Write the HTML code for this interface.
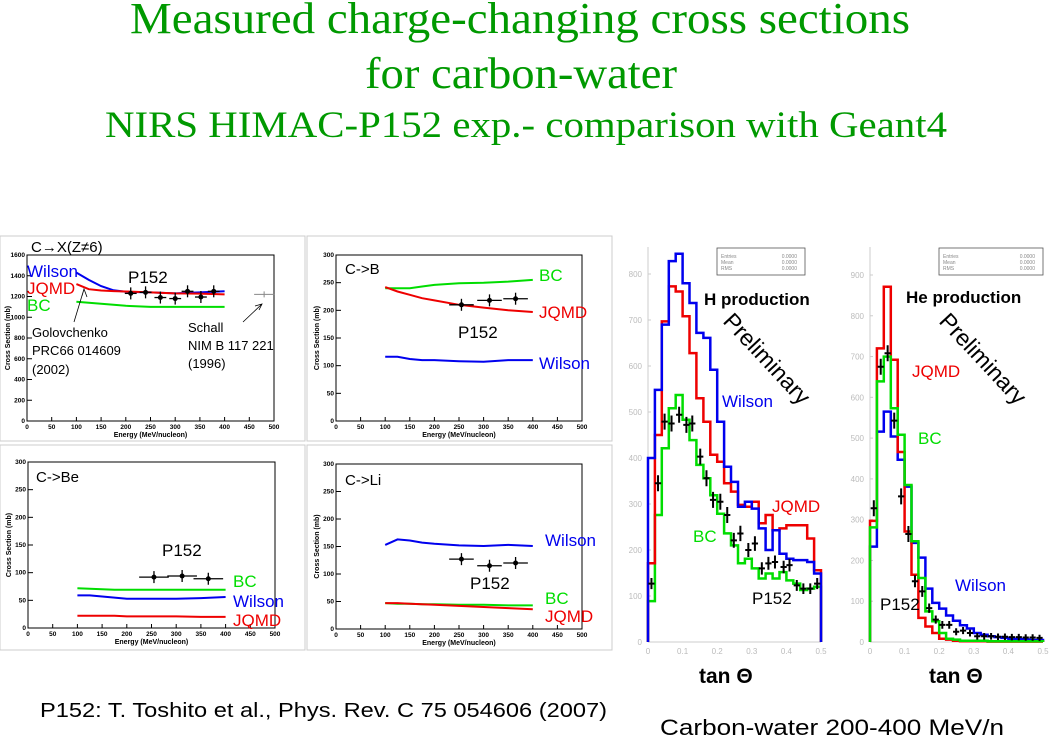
<!DOCTYPE html>
<html><head><meta charset="utf-8"><style>
html,body{margin:0;padding:0;background:#fff}
svg{display:block}
text{font-family:"Liberation Sans",sans-serif}
.serif{font-family:"Liberation Serif",serif}
</style></head><body>
<svg id="s" width="1050" height="738" viewBox="0 0 1050 738" xmlns="http://www.w3.org/2000/svg">
<g fill="#009900">
<text class="serif" x="520" y="33" font-size="44" text-anchor="middle" textLength="780" lengthAdjust="spacingAndGlyphs">Measured charge-changing cross sections</text>
<text class="serif" x="521" y="88" font-size="44" text-anchor="middle" textLength="312" lengthAdjust="spacingAndGlyphs">for carbon-water</text>
<text class="serif" x="526" y="137" font-size="37" text-anchor="middle" textLength="842" lengthAdjust="spacingAndGlyphs">NIRS HIMAC-P152 exp.- comparison with Geant4</text>
</g>
<text x="40" y="717" font-size="20" fill="#000" textLength="567" lengthAdjust="spacingAndGlyphs">P152: T. Toshito et al., Phys. Rev. C 75 054606 (2007)</text>
<text x="660" y="735" font-size="22" fill="#000" textLength="344" lengthAdjust="spacingAndGlyphs">Carbon-water 200-400 MeV/n</text>
</svg>
<script>
const NS="http://www.w3.org/2000/svg";
const svg=document.getElementById('s');
function mk(tag,attrs,parent){const e=document.createElementNS(NS,tag);for(const k in attrs)e.setAttribute(k,attrs[k]);(parent||svg).appendChild(e);return e;}
function txt(parent,x,y,s,size,fill,extra){const t=mk('text',Object.assign({x:x,y:y,'font-size':size,fill:fill},extra||{}),parent);t.textContent=s;return t;}

const energies=[100,125,150,175,200,250,300,350,400];
const cxWilson=[1430,1360,1300,1260,1245,1240,1230,1240,1250];
const cxJQMD=[1320,1270,1258,1252,1248,1240,1230,1228,1220];
const cxBC=[1150,1140,1130,1120,1110,1100,1100,1100,1100];
const cxPtsE=[210,240,270,300,325,352,378];
const cxPtsV=[1230,1240,1190,1180,1250,1195,1250];
const bBC=[240,240,240,243,246,249,250,252,255];
const bJQMD=[242,234,228,222,218,210,205,200,197];
const bWilson=[116,116,112,110,110,108,107,110,110];
const bPtsE=[255,312,365];
const bPtsV=[210,218,221];
const beBC=[72,71,70,69,69,69,69,69,69];
const beWilson=[59,59,57,55,53,53,53,54,56];
const beJQMD=[22,22,22,22,21,21,21,20,20];
const bePtsV=[92,94,89];
const liWilson=[153,163,161,157,155,152,151,153,151];
const liBC=[47,46,46,45,45,44,44,43,43];
const liJQMD=[47,47,46,45,44,42,40,38,36];
const liPtsV=[127,115,120];
const panelPtsE=[255,312,365];
const xTicks=[0,50,100,150,200,250,300,350,400,450,500];

function panel(o){
  const g=mk('g',{});
  
  
  const r=mk('rect',{x:o.bx,y:o.by,width:o.bw,height:o.bh,fill:'none',stroke:'#ccc','stroke-width':1},g);
  
  
  const X=e=>o.x0+(o.x1-o.x0)*e/500;
  const Y=v=>o.y1-(o.y1-o.y0)*v/o.ymax;
  const fr=mk('rect',{x:o.x0,y:o.y0,width:o.x1-o.x0,height:o.y1-o.y0,fill:'none',stroke:'#000','stroke-width':1},g);
  
  
  xTicks.forEach(t=>{
    mk('line',{x1:X(t),x2:X(t),y1:o.y1,y2:o.y1-4,stroke:'#000'},g);
    const l=txt(g,X(t),o.y1+8,String(t),6.5,'#000',{'text-anchor':'middle','font-weight':'bold'});
    
    
  });
  o.yTicks.forEach(t=>{
    mk('line',{x1:o.x0,x2:o.x0+5,y1:Y(t),y2:Y(t),stroke:'#000'},g);
    const l=txt(g,o.x0-2,Y(t)+2,String(t),6.5,'#000',{'text-anchor':'end','font-weight':'bold'});
    
    
  });
  const xt=txt(g,(o.x0+o.x1)/2,o.y1+16,'Energy (MeV/nucleon)',7,'#000',{'text-anchor':'middle','font-weight':'bold'});
  
  
  const yt=txt(g,0,0,'Cross Section (mb)',7,'#000',{'text-anchor':'middle','font-weight':'bold',transform:`translate(${o.x0-17},${(o.y0+o.y1)/2}) rotate(-90)`});
  
  
  o.series.forEach(s=>{
    const d=energies.map((e,i)=>(i?'L':'M')+X(e).toFixed(1)+','+Y(s.v[i]).toFixed(1)).join('');
    const p=mk('path',{d:d,fill:'none',stroke:s.c,'stroke-width':2},g);
    
    
  });
  o.ptsE.forEach((e,i)=>{
    const v=o.ptsV[i];
    const pg=mk('g',{},g);
    
    
    mk('line',{x1:X(e-o.ex),x2:X(e+o.ex),y1:Y(v),y2:Y(v),stroke:'#000','stroke-width':1.3},pg);
    mk('line',{x1:X(e),x2:X(e),y1:Y(v)-6,y2:Y(v)+6,stroke:'#000','stroke-width':1.3},pg);
    mk('circle',{cx:X(e),cy:Y(v),r:2.5,fill:'#000'},pg);
  });
  o.labels.forEach(l=>{
    const t=txt(g,l[0],l[1],l[2],l[4]||17,l[3]);
    
    
  });
  return {g,X,Y};
}

const p1=panel({name:'panel-c-to-x',bx:0,by:236,bw:305,bh:205,x0:27,x1:274,y0:255,y1:421,ymax:1600,yTicks:[0,200,400,600,800,1000,1200,1400,1600],
 series:[{n:'wilson',c:'#0000ee',v:cxWilson},{n:'jqmd',c:'#ee0000',v:cxJQMD},{n:'bc',c:'#00dd00',v:cxBC}],
 ptsE:cxPtsE,ptsV:cxPtsV,ex:12,
 labels:[[31,252,'C→X(Z≠6)','#000',15,'panel-title'],[27,277,'Wilson','#0000ee',17,'wilson-label'],[27,294,'JQMD','#ee0000',17,'jqmd-label'],[27,311,'BC','#00dd00',17,'bc-label'],[128,283,'P152','#000',17,'p152-label'],
 [32,337,'Golovchenko','#000',13,'golovchenko-note'],[32,355,'PRC66 014609','#000',13,'golovchenko-ref'],[32,374,'(2002)','#000',13,'golovchenko-year'],
 [188,332,'Schall','#000',13,'schall-note'],[188,350,'NIM B 117 221','#000',13,'schall-ref'],[188,368,'(1996)','#000',13,'schall-year']]});
mk('path',{d:`M${p1.X(480)-10},${p1.Y(1220)}h20M${p1.X(480)},${p1.Y(1220)-3}v6`,stroke:'#888','stroke-width':1,fill:'none'},p1.g);
mk('path',{d:'M74,322L84,289M82,296L84,289L87,297',stroke:'#000','stroke-width':0.8,fill:'none'},p1.g);
mk('path',{d:'M243,322L262,304M255,306L262,304L259,310',stroke:'#000','stroke-width':0.8,fill:'none'},p1.g);

panel({name:'panel-c-to-b',bx:307,by:236,bw:305,bh:205,x0:336,x1:582,y0:255,y1:421,ymax:300,yTicks:[0,50,100,150,200,250,300],
 series:[{n:'bc',c:'#00dd00',v:bBC},{n:'jqmd',c:'#ee0000',v:bJQMD},{n:'wilson',c:'#0000ee',v:bWilson}],
 ptsE:bPtsE,ptsV:bPtsV,ex:25,
 labels:[[345,274,'C->B','#000',15,'panel-title'],[539,281,'BC','#00dd00',17,'bc-label'],[539,318,'JQMD','#ee0000',17,'jqmd-label'],[458,338,'P152','#000',17,'p152-label'],[539,369,'Wilson','#0000ee',17,'wilson-label']]});

panel({name:'panel-c-to-be',bx:0,by:445,bw:305,bh:205,x0:28,x1:275,y0:462,y1:628,ymax:300,yTicks:[0,50,100,150,200,250,300],
 series:[{n:'bc',c:'#00dd00',v:beBC},{n:'wilson',c:'#0000ee',v:beWilson},{n:'jqmd',c:'#ee0000',v:beJQMD}],
 ptsE:panelPtsE,ptsV:bePtsV,ex:30,
 labels:[[36,482,'C->Be','#000',15,'panel-title'],[162,556,'P152','#000',17,'p152-label'],[233,587,'BC','#00dd00',17,'bc-label'],[233,607,'Wilson','#0000ee',17,'wilson-label'],[233,626,'JQMD','#ee0000',17,'jqmd-label']]});

panel({name:'panel-c-to-li',bx:307,by:445,bw:305,bh:205,x0:336,x1:582,y0:464,y1:629,ymax:300,yTicks:[0,50,100,150,200,250,300],
 series:[{n:'wilson',c:'#0000ee',v:liWilson},{n:'bc',c:'#00dd00',v:liBC},{n:'jqmd',c:'#ee0000',v:liJQMD}],
 ptsE:panelPtsE,ptsV:liPtsV,ex:25,
 labels:[[345,485,'C->Li','#000',15,'panel-title'],[545,546,'Wilson','#0000ee',17,'wilson-label'],[470,589,'P152','#000',17,'p152-label'],[545,604,'BC','#00dd00',17,'bc-label'],[545,622,'JQMD','#ee0000',17,'jqmd-label']]});

const hWilson=[400,548,690,828,844,780,737,672,661,592,479,381,348,294,305,290,247,200,243,192,181,178,178,174,149];
const hJQMD=[171,450,697,773,762,708,628,530,479,407,392,345,327,298,294,305,258,276,243,247,254,254,254,225,156];
const hBC=[89,276,421,508,537,483,439,385,356,319,279,236,210,171,181,160,138,149,138,152,134,127,113,116,120];
const hPtsT=[0.01,0.029,0.048,0.068,0.09,0.111,0.128,0.151,0.169,0.188,0.209,0.229,0.248,0.267,0.29,0.309,0.329,0.348,0.367,0.392,0.409,0.43,0.449,0.469,0.489];
const hPtsV=[127,345,479,475,494,472,475,403,356,309,305,276,221,236,200,214,160,171,174,163,167,123,116,116,127];
const heWilson=[234,516,565,504,447,381,243,207,131,96,82,65,52,41,33,22,18,14,12,10,8,7,6,5,5];
const heJQMD=[297,720,871,692,466,271,165,59,38,22,8,6,3,2,2,2,2,1,1,1,1,1,1,1,1];
const heBC=[281,639,700,573,508,385,247,157,75,51,22,8,6,3,3,3,3,2,2,2,2,2,2,2,2];
const hePtsT=[0.011,0.031,0.051,0.07,0.09,0.111,0.13,0.151,0.171,0.19,0.209,0.229,0.249,0.269,0.289,0.31,0.33,0.35,0.37,0.39,0.41,0.43,0.45,0.47,0.49];
const hePtsV=[328,675,708,543,357,265,149,124,83,55,42,42,25,28,22,14,14,14,13,13,12,12,11,11,10];
const binW=0.02;
const hTicksY=[0,100,200,300,400,500,600,700,800];
const heTicksY=[0,100,200,300,400,500,600,700,800,900];
const tTicks=[0,0.1,0.2,0.3,0.4,0.5];
const statNames=['Entries','Mean','RMS'];

function hist(o){
  const g=mk('g',{});
  
  
  const X=t=>o.x0+(o.x1-o.x0)*t/0.5;
  const Y=v=>o.y1-(o.y1-o.ytop)*v/o.vtop;
  mk('line',{x1:o.x0,x2:o.x0,y1:247,y2:o.y1,stroke:'#ccc'},g);
  mk('line',{x1:o.x0,x2:o.x1,y1:o.y1,y2:o.y1,stroke:'#ccc'},g);
  o.ticksY.forEach(t=>{
    const l=txt(g,o.x0-6,Y(t)+3,String(t),8,'#bbb',{'text-anchor':'end'});
    
    
    mk('line',{x1:o.x0,x2:o.x0+3,y1:Y(t),y2:Y(t),stroke:'#ccc'},g);
  });
  tTicks.forEach(t=>{
    const l=txt(g,X(t),o.y1+12,String(t),8,'#bbb',{'text-anchor':'middle'});
    
    
  });
  const sb=mk('rect',{x:o.sx,y:248,width:o.sw,height:27,fill:'#fff',stroke:'#555','stroke-width':0.8},g);
  
  
  statNames.forEach((n,i)=>{
    const a=txt(g,o.sx+4,258+i*6,n,5,'#888');
    
    
    const b=txt(g,o.sx+o.sw-8,258+i*6,'0.0000',5,'#888',{'text-anchor':'end'});
    
    
  });
  o.series.forEach(s=>{
    let d='M'+X(0).toFixed(1)+','+Y(0).toFixed(1);
    s.v.forEach((v,i)=>{d+='L'+X(i*binW).toFixed(1)+','+Y(v).toFixed(1)+'L'+X((i+1)*binW).toFixed(1)+','+Y(v).toFixed(1);});
    d+='L'+X(s.v.length*binW).toFixed(1)+','+Y(0).toFixed(1);
    const p=mk('path',{d:d,fill:'none',stroke:s.c,'stroke-width':2.5},g);
    
    
  });
  o.pt.forEach((t,i)=>{
    const v=o.pv[i];
    const pg=mk('g',{},g);
    
    
    const ey=Math.max(3,Math.min(8,v*0.02+3));
    mk('path',{d:`M${X(t-0.009)},${Y(v)}H${X(t+0.009)}M${X(t)},${Y(v)-ey}V${Y(v)+ey}`,stroke:'#000','stroke-width':2,fill:'none'},pg);
  });
  o.labels.forEach(l=>{
    const t=txt(g,l[0],l[1],l[2],l[4],l[3],l[6]||{});
    
    
  });
}
hist({name:'h-production-chart',x0:648,x1:821,y1:642,ytop:274,vtop:800,ticksY:hTicksY,sx:717,sw:88,
 series:[{n:'bc',c:'#00dd00',v:hBC},{n:'jqmd',c:'#ee0000',v:hJQMD},{n:'wilson',c:'#0000ee',v:hWilson}],
 pt:hPtsT,pv:hPtsV,
 labels:[[704,305,'H production','#000',17,'chart-title',{'font-weight':'bold'}],[722,407,'Wilson','#0000ee',17,'wilson-label'],[772,512,'JQMD','#ee0000',17,'jqmd-label'],[693,542,'BC','#00dd00',17,'bc-label'],[752,604,'P152','#000',17,'p152-label'],
 [699,683,'tan Θ','#000',21,'x-axis-title',{'font-weight':'bold'}],[0,0,'Preliminary','#000',23,'preliminary-watermark',{transform:'translate(722,322) rotate(47)'}]]});
hist({name:'he-production-chart',x0:870,x1:1043,y1:642,ytop:275,vtop:900,ticksY:heTicksY,sx:939,sw:104,
 series:[{n:'wilson',c:'#0000ee',v:heWilson},{n:'jqmd',c:'#ee0000',v:heJQMD},{n:'bc',c:'#00dd00',v:heBC}],
 pt:hePtsT,pv:hePtsV,
 labels:[[906,303,'He production','#000',17,'chart-title',{'font-weight':'bold'}],[912,377,'JQMD','#ee0000',17,'jqmd-label'],[918,444,'BC','#00dd00',17,'bc-label'],[955,591,'Wilson','#0000ee',17,'wilson-label'],[880,610,'P152','#000',17,'p152-label'],
 [929,683,'tan Θ','#000',21,'x-axis-title',{'font-weight':'bold'}],[0,0,'Preliminary','#000',23,'preliminary-watermark',{transform:'translate(938,322) rotate(47)'}]]});
</script>
</body></html>
